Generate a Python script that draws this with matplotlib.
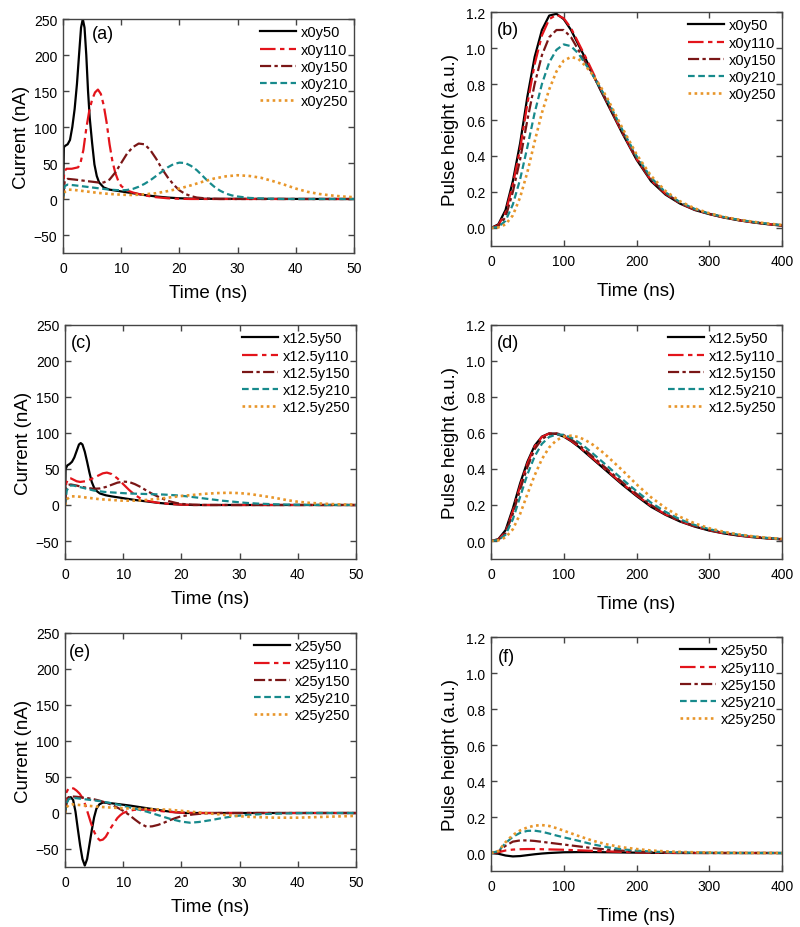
import matplotlib
matplotlib.use("Agg")
import matplotlib.pyplot as plt
from matplotlib.ticker import FormatStrFormatter

plt.rcParams['font.family'] = ['Liberation Sans', 'DejaVu Sans']

# ---------------- labels ----------------
series_names = ["y50", "y110", "y150", "y210", "y250"]
row_prefix = ["x0", "x12.5", "x25"]
panel_letters = ["(a)", "(b)", "(c)", "(d)", "(e)", "(f)"]

# ---------------- panel (a): current, x0 ----------------
a_t_y50 = [0, 0.15, 0.4, 0.8, 1.2, 1.6, 2.0, 2.4, 2.8, 3.1, 3.4, 3.7, 4.0, 4.3, 4.6, 5.0, 5.4, 5.8, 6.2, 7, 8, 10, 12, 14, 16, 18, 20, 23, 50]
a_i_y50 = [0, 72, 74, 76, 82, 100, 125, 160, 205, 238, 250, 238, 200, 150, 112, 78, 48, 32, 23, 16, 13, 10.5, 8, 5.5, 3.5, 2, 1, 0.3, 0]
a_t_y110 = [0, 0.2, 0.6, 1.5, 2.6, 3.0, 3.5, 4.0, 4.5, 5.0, 5.5, 6.0, 6.5, 7.0, 7.5, 8.0, 8.5, 9.0, 9.5, 10, 11, 12, 14, 16, 18, 20, 22, 50]
a_i_y110 = [0, 38, 42, 42, 44, 50, 68, 98, 122, 138, 148, 152, 146, 130, 106, 76, 52, 36, 25, 18, 12, 9, 5, 2.5, 1, 0.3, 0, 0]
a_t_y150 = [0, 0.3, 0.8, 2, 4, 6, 7, 8, 9, 10, 11, 12, 13, 14, 15, 16, 17, 18, 19, 20, 21, 22, 23, 25, 27, 50]
a_i_y150 = [0, 25, 28, 27, 25, 23, 23, 27, 37, 50, 63, 72, 77, 76, 68, 56, 42, 30, 20, 12, 7, 4, 2, 0.5, 0, 0]
a_t_y210 = [0, 0.3, 0.8, 2, 4, 6, 8, 10, 11, 12, 13, 14, 15, 16, 17, 18, 19, 20, 21, 22, 23, 24, 25, 26, 27, 28, 29, 30, 32, 35, 38, 50]
a_i_y210 = [0, 18, 20, 19, 17, 15, 13, 12, 12.5, 14, 17, 21, 26, 32, 38, 44, 48.5, 50.5, 50, 46, 40, 32, 24, 17, 11.5, 7.5, 5, 3.5, 1.5, 0.5, 0, 0]
a_t_y250 = [0, 0.3, 1, 2, 4, 6, 8, 10, 12, 14, 16, 18, 20, 22, 24, 26, 28, 30, 32, 34, 36, 38, 40, 42, 44, 46, 48, 50]
a_i_y250 = [0, 10, 13, 12.5, 10.5, 8.5, 7, 6, 5.5, 6.5, 8, 11, 14.5, 19, 24, 28.5, 31.5, 33, 32, 29.5, 25, 20, 14.5, 10, 7, 5, 3.5, 2.5]

# ---------------- panel (c): current, x12.5 ----------------
c_t_y50 = [0, 0.1, 0.4, 0.8, 1.2, 1.6, 2.0, 2.4, 2.7, 3.0, 3.4, 3.8, 4.2, 4.6, 5.0, 5.5, 6, 7, 8, 10, 12, 14, 16, 18, 20, 22, 50]
c_i_y50 = [0, 50, 55, 57, 60, 66, 75, 84, 86, 84, 74, 60, 45, 32, 24, 19, 16, 13.5, 12, 9.5, 7, 5, 3, 1.5, 0.5, 0, 0]
c_t_y110 = [0, 0.2, 0.6, 1, 1.5, 2, 2.6, 3.5, 4.5, 5.5, 6.5, 7.2, 8, 9, 10, 11, 12, 13, 14, 16, 18, 20, 22, 50]
c_i_y110 = [0, 30, 37, 37, 35, 33, 32, 33, 36, 40, 44, 45, 43, 37, 29, 21, 14, 9, 6, 3, 1.5, 0.5, 0, 0]
c_t_y150 = [0, 0.2, 0.6, 1, 2, 3, 4, 5, 6, 7, 8, 9, 10, 11, 12, 13, 14, 15, 16, 17, 18, 19, 20, 22, 24, 50]
c_i_y150 = [0, 24, 28, 28.5, 27, 25, 23.5, 22.5, 23, 25, 28, 31, 32.5, 32, 29, 25, 20, 15.5, 11.5, 8, 5, 3, 1.5, 0.5, 0, 0]
c_t_y210 = [0, 0.3, 0.8, 1.5, 3, 5, 7, 9, 11, 13, 15, 17, 19, 21, 23, 25, 27, 29, 31, 33, 36, 40, 45, 50]
c_i_y210 = [0, 20, 27, 27, 24, 20, 18, 17, 16, 15.5, 15, 14.5, 13.5, 12, 10, 8, 6, 4.5, 3, 2, 1, 0.3, 0, 0]
c_t_y250 = [0, 0.3, 1, 2, 4, 6, 8, 10, 12, 14, 16, 18, 20, 22, 24, 26, 28, 30, 32, 34, 36, 38, 40, 42, 44, 46, 48, 50]
c_i_y250 = [0, 8, 12, 12, 10, 8, 7, 6, 6, 7, 8.5, 10.5, 12.5, 14, 15.5, 16.5, 17, 16.5, 15, 12.5, 10, 7, 4.5, 3, 2, 1.2, 0.7, 0.5]

# ---------------- panel (e): current, x25 ----------------
e_t_y50 = [0, 0.3, 0.7, 1.0, 1.4, 1.8, 2.2, 2.6, 3.0, 3.4, 3.8, 4.2, 4.6, 5.0, 5.4, 5.9, 6.5, 7.5, 9, 11, 13, 15, 17, 19, 21, 50]
e_i_y50 = [0, 15, 21, 22, 18, 2, -22, -45, -64, -73, -64, -44, -24, -6, 6, 12, 14.5, 14, 12.5, 10.5, 8, 5.5, 3, 1, 0, 0]
e_t_y110 = [0, 0.2, 0.6, 1.0, 1.5, 2.0, 2.5, 3.0, 3.5, 4.0, 4.5, 5.0, 5.5, 6.0, 6.5, 7.0, 7.5, 8.0, 8.5, 9.0, 9.5, 10, 11, 12, 14, 16, 18, 20, 22, 50]
e_i_y110 = [0, 28, 34, 35, 34, 31, 27, 21, 11, -2, -15, -26, -34, -38, -37, -33, -26, -19, -13, -7, -3, 0, 3, 4.5, 4.5, 3, 1.5, 0.5, 0, 0]
e_t_y150 = [0, 0.2, 0.6, 1.2, 2, 3, 4, 5, 6, 7, 8, 9, 10, 11, 12, 13, 14, 15, 16, 17, 18, 19, 20, 22, 24, 26, 50]
e_i_y150 = [0, 18, 22, 23, 22.5, 21.5, 20.5, 19, 17, 14.5, 11.5, 7.5, 3, -2.5, -9, -15, -19, -18.5, -16.5, -13.5, -10, -7, -4.5, -2, -0.5, 0, 0]
e_t_y210 = [0, 0.2, 0.6, 1.2, 2, 4, 6, 8, 10, 12, 14, 16, 18, 20, 21.5, 23, 25, 27, 29, 31, 34, 38, 42, 50]
e_i_y210 = [0, 12, 19, 21, 20.5, 18.5, 16.5, 13.5, 10, 6, 2, -3, -8, -12, -13.5, -12.5, -10, -7, -4.5, -2.8, -1.5, -0.5, 0, 0]
e_t_y250 = [0, 0.2, 0.6, 1.2, 2, 4, 6, 8, 10, 12, 14, 16, 18, 20, 22, 24, 26, 28, 30, 32, 34, 36, 38, 40, 42, 44, 46, 48, 50]
e_i_y250 = [0, 7, 11, 12, 11.5, 10, 8.5, 7.5, 6.5, 6, 5.5, 5, 4.5, 3, 1.5, 0, -1.5, -3, -4.5, -5.5, -6, -6.5, -6.5, -6.5, -6, -5.5, -5, -4.5, -4]

# ---------------- panels (b), (d): pulse height ----------------
ph_t = [0, 10, 20, 30, 40, 50, 60, 70, 80, 90, 100, 110, 120, 130, 140, 150, 160, 180, 200, 220, 240, 260, 280, 300, 320, 340, 360, 380, 400]

b_y50 = [0, 0.02, 0.10, 0.26, 0.47, 0.73, 0.95, 1.10, 1.18, 1.19, 1.16, 1.10, 1.02, 0.94, 0.855, 0.77, 0.69, 0.53, 0.38, 0.26, 0.185, 0.135, 0.10, 0.077, 0.058, 0.043, 0.031, 0.021, 0.013]
b_y110 = [0, 0.015, 0.085, 0.24, 0.44, 0.69, 0.91, 1.07, 1.16, 1.185, 1.165, 1.11, 1.03, 0.95, 0.865, 0.78, 0.695, 0.535, 0.385, 0.265, 0.19, 0.137, 0.102, 0.078, 0.059, 0.044, 0.032, 0.022, 0.014]
b_y150 = [0, 0.01, 0.06, 0.20, 0.38, 0.60, 0.80, 0.96, 1.06, 1.10, 1.10, 1.06, 0.99, 0.92, 0.85, 0.775, 0.70, 0.54, 0.39, 0.27, 0.193, 0.14, 0.104, 0.079, 0.06, 0.045, 0.033, 0.023, 0.015]
b_y210 = [0, 0.006, 0.04, 0.13, 0.27, 0.45, 0.64, 0.80, 0.92, 0.99, 1.02, 1.01, 0.97, 0.91, 0.85, 0.78, 0.71, 0.55, 0.40, 0.28, 0.198, 0.143, 0.106, 0.08, 0.061, 0.046, 0.034, 0.024, 0.016]
b_y250 = [0, 0.003, 0.02, 0.07, 0.17, 0.31, 0.48, 0.64, 0.77, 0.87, 0.93, 0.95, 0.94, 0.90, 0.85, 0.79, 0.72, 0.56, 0.41, 0.29, 0.205, 0.148, 0.109, 0.082, 0.062, 0.047, 0.035, 0.025, 0.017]

d_y50 = [0, 0.01, 0.06, 0.18, 0.32, 0.44, 0.53, 0.58, 0.598, 0.595, 0.58, 0.555, 0.525, 0.49, 0.455, 0.42, 0.385, 0.315, 0.25, 0.19, 0.145, 0.108, 0.08, 0.058, 0.042, 0.03, 0.021, 0.014, 0.009]
d_y110 = [0, 0.008, 0.05, 0.165, 0.305, 0.43, 0.525, 0.578, 0.597, 0.597, 0.583, 0.558, 0.528, 0.494, 0.46, 0.425, 0.39, 0.32, 0.255, 0.195, 0.148, 0.11, 0.082, 0.06, 0.043, 0.031, 0.022, 0.015, 0.01]
d_y150 = [0, 0.006, 0.045, 0.15, 0.285, 0.41, 0.51, 0.566, 0.592, 0.598, 0.588, 0.565, 0.536, 0.503, 0.468, 0.433, 0.398, 0.328, 0.262, 0.2, 0.152, 0.113, 0.084, 0.062, 0.045, 0.032, 0.023, 0.016, 0.01]
d_y210 = [0, 0.005, 0.035, 0.12, 0.245, 0.37, 0.47, 0.54, 0.578, 0.592, 0.59, 0.575, 0.55, 0.52, 0.486, 0.451, 0.416, 0.345, 0.277, 0.213, 0.162, 0.12, 0.089, 0.066, 0.048, 0.035, 0.025, 0.017, 0.011]
d_y250 = [0, 0.003, 0.02, 0.065, 0.15, 0.26, 0.365, 0.455, 0.52, 0.56, 0.58, 0.585, 0.578, 0.56, 0.535, 0.505, 0.47, 0.395, 0.315, 0.243, 0.183, 0.134, 0.098, 0.071, 0.051, 0.037, 0.026, 0.018, 0.012]

# ---------------- panel (f): pulse height, x25 ----------------
f_t = [0, 10, 20, 30, 40, 50, 60, 70, 80, 90, 100, 120, 140, 160, 180, 200, 220, 240, 260, 280, 300, 340, 400]
f_y50 = [0, -0.004, -0.014, -0.019, -0.017, -0.012, -0.007, -0.003, 0, 0.002, 0.004, 0.005, 0.005, 0.004, 0.003, 0.002, 0.001, 0.0005, 0, 0, 0, 0, 0]
f_y110 = [0, 0.004, 0.014, 0.019, 0.021, 0.022, 0.022, 0.021, 0.02, 0.019, 0.018, 0.015, 0.012, 0.009, 0.006, 0.004, 0.002, 0.001, 0, 0, 0, 0, 0]
f_y150 = [0, 0.008, 0.04, 0.063, 0.07, 0.07, 0.067, 0.062, 0.057, 0.052, 0.047, 0.037, 0.027, 0.019, 0.013, 0.008, 0.005, 0.003, 0.002, 0.001, 0, 0, 0]
f_y210 = [0, 0.01, 0.055, 0.09, 0.112, 0.123, 0.124, 0.118, 0.108, 0.097, 0.087, 0.068, 0.048, 0.032, 0.021, 0.013, 0.008, 0.005, 0.003, 0.002, 0.001, 0, 0]
f_y250 = [0, 0.01, 0.06, 0.10, 0.125, 0.142, 0.152, 0.155, 0.15, 0.138, 0.124, 0.095, 0.068, 0.047, 0.032, 0.022, 0.014, 0.009, 0.006, 0.004, 0.003, 0.001, 0]

# ---------------- styles ----------------
colors = ['#000000', '#e3141b', '#7a1616', '#178a8c', '#e8962a']
dashes = [None, (7, 2, 2, 2), (5, 1.5, 1.5, 1.5), (3, 1.6), (1, 1.3)]
widths = [1.6, 1.6, 1.6, 1.6, 1.9]

W, H = 800, 928
fig = plt.figure(figsize=(W / 100, H / 100), dpi=100)

# pixel boxes (left, right, top, bottom)
boxes = [(63, 354, 20, 254), (491, 782, 13, 247),
         (65, 356, 326, 560), (491, 782, 326, 560),
         (65, 356, 634, 868), (491, 782, 638, 872)]
letter_pos = [(0.10, 0.94), (0.02, 0.925), (0.02, 0.925), (0.02, 0.925), (0.015, 0.922), (0.025, 0.915)]

current_data = [
    [(a_t_y50, a_i_y50), (a_t_y110, a_i_y110), (a_t_y150, a_i_y150), (a_t_y210, a_i_y210), (a_t_y250, a_i_y250)],
    [(c_t_y50, c_i_y50), (c_t_y110, c_i_y110), (c_t_y150, c_i_y150), (c_t_y210, c_i_y210), (c_t_y250, c_i_y250)],
    [(e_t_y50, e_i_y50), (e_t_y110, e_i_y110), (e_t_y150, e_i_y150), (e_t_y210, e_i_y210), (e_t_y250, e_i_y250)],
]
pulse_data = [
    [(ph_t, b_y50), (ph_t, b_y110), (ph_t, b_y150), (ph_t, b_y210), (ph_t, b_y250)],
    [(ph_t, d_y50), (ph_t, d_y110), (ph_t, d_y150), (ph_t, d_y210), (ph_t, d_y250)],
    [(f_t, f_y50), (f_t, f_y110), (f_t, f_y150), (f_t, f_y210), (f_t, f_y250)],
]


def style_axes(ax):
    for s in ax.spines.values():
        s.set_color('#444444')
        s.set_linewidth(1.0)
    ax.tick_params(direction='in', length=4, width=1.0, color='#444444',
                   top=True, right=True, labelsize=10)
    ax.tick_params(axis='x', pad=6)
    ax.tick_params(axis='y', pad=4)


for row in range(3):
    for col in range(2):
        idx = row * 2 + col
        l, r, t, b = boxes[idx]
        ax = fig.add_axes([l / W, 1 - b / H, (r - l) / W, (b - t) / H])
        data = current_data[row] if col == 0 else pulse_data[row]
        for k, (xs, ys) in enumerate(data):
            label = row_prefix[row] + series_names[k]
            line, = ax.plot(xs, ys, color=colors[k], lw=widths[k], label=label)
            if dashes[k] is not None:
                line.set_dashes(dashes[k])
        if col == 0:
            ax.set_xlim(0, 50)
            ax.set_ylim(-75, 250)
            ax.set_xticks([0, 10, 20, 30, 40, 50])
            ax.set_yticks([-50, 0, 50, 100, 150, 200, 250])
            ax.set_ylabel('Current (nA)', fontsize=13.5, labelpad=3)
            ax.set_xlabel('Time (ns)', fontsize=13.5, labelpad=6)
        else:
            ax.set_xlim(0, 400)
            ax.set_ylim(-0.1, 1.2)
            ax.set_xticks([0, 100, 200, 300, 400])
            ax.set_yticks([0, 0.2, 0.4, 0.6, 0.8, 1.0, 1.2])
            ax.yaxis.set_major_formatter(FormatStrFormatter('%.1f'))
            ax.set_ylabel('Pulse height (a.u.)', fontsize=13.5, labelpad=5)
            ax.set_xlabel('Time (ns)', fontsize=13.5, labelpad=10)
        style_axes(ax)
        ax.text(letter_pos[idx][0], letter_pos[idx][1], panel_letters[idx],
                transform=ax.transAxes, fontsize=13, ha='left', va='center')
        ax.legend(loc='upper right', bbox_to_anchor=(0.99, 0.985), frameon=False,
                  fontsize=10.5, handlelength=2.5, handletextpad=0.3,
                  labelspacing=0.22, borderaxespad=0, borderpad=0.2)

fig.savefig('out.png', dpi=100)
